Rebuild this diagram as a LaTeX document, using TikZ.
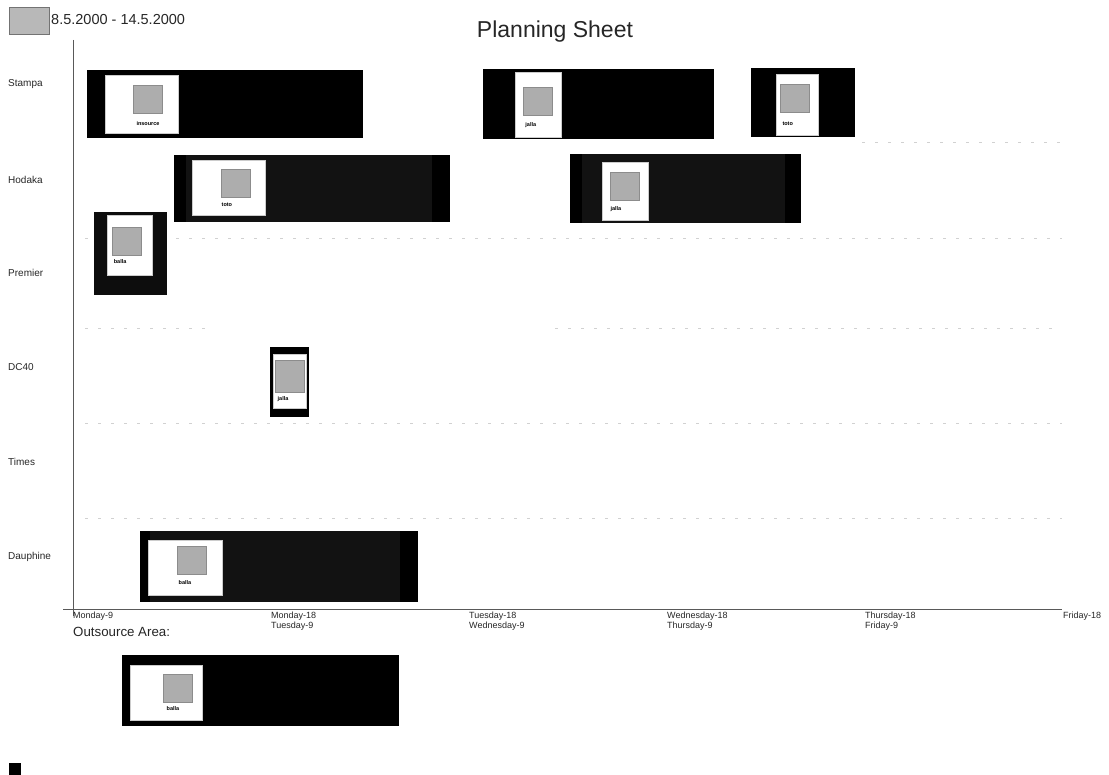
\documentclass[tikz,border=0pt]{standalone}
\usepackage{fontspec}
\setmainfont{Liberation Sans}
\begin{document}
\begin{tikzpicture}[x=1pt,y=-1pt,
  txt/.style={inner sep=0pt,text=black!85},
  rowlab/.style={txt,anchor=west,font=\fontsize{10}{11}\selectfont},
  ticklab/.style={txt,anchor=north west,align=left,font=\fontsize{9}{9.3}\selectfont},
  blockfill/.style={fill=black},
  card/.style={draw=black!20,fill=white,inner sep=0pt,line width=0.4pt},
  sq/.style={draw=black!45,fill=black!32,inner sep=0pt,minimum width=29pt,minimum height=28pt,line width=0.4pt},
  clab/.style={inner sep=0pt,font=\fontsize{5.5}{6}\selectfont\bfseries,text=black},
  grid/.style={draw=black!18,line width=0.8pt,dash pattern=on 3pt off 10pt},
  axis/.style={draw=black!65,line width=0.8pt}
]
\useasboundingbox (0,0) rectangle (1109,775);

% legend and title
\node[draw=black!55,fill=black!28,minimum width=40pt,minimum height=27pt,inner sep=0pt,line width=0.6pt] (legbox) at (29,20.5) {};
\node[txt,anchor=west,font=\fontsize{14.5}{16}\selectfont] (legtxt) at (51,20) {8.5.2000 - 14.5.2000};
\node[txt,font=\fontsize{23}{25}\selectfont] (title) at (555,32) {Planning Sheet};

% faint grid lines
\coordinate (g1a) at (862,142); \coordinate (g1b) at (1062,142);
\coordinate (g2a) at (85,238); \coordinate (g2b) at (1062,238);
\coordinate (g3a) at (85,328); \coordinate (g3b) at (212,328);
\coordinate (g3c) at (555,328); \coordinate (g3d) at (1062,328);
\coordinate (g4a) at (85,423); \coordinate (g4b) at (1062,423);
\coordinate (g5a) at (85,518); \coordinate (g5b) at (1062,518);
\draw[grid] (g1a) -- (g1b);
\draw[grid] (g2a) -- (g2b);
\draw[grid] (g3a) -- (g3b);
\draw[grid] (g3c) -- (g3d);
\draw[grid] (g4a) -- (g4b);
\draw[grid] (g5a) -- (g5b);

% axes
\coordinate (ytop) at (73,40); \coordinate (ybot) at (73,616);
\coordinate (xl) at (63,609); \coordinate (xr) at (1062,609);
\draw[axis] (ytop) -- (ybot);
\draw[axis] (xl) -- (xr);

% row labels
\node[rowlab] (rStampa) at (8,84) {Stampa};
\node[rowlab] (rHodaka) at (8,180) {Hodaka};
\node[rowlab] (rPremier) at (8,273) {Premier};
\node[rowlab] (rDC) at (8,367) {DC40};
\node[rowlab] (rTimes) at (8,462) {Times};
\node[rowlab] (rDauphine) at (8,557) {Dauphine};

% tick labels
\node[ticklab] (t0) at (73,612) {Monday-9};
\node[ticklab] (t1) at (271,612) {Monday-18\\Tuesday-9};
\node[ticklab] (t2) at (469,612) {Tuesday-18\\Wednesday-9};
\node[ticklab] (t3) at (667,612) {Wednesday-18\\Thursday-9};
\node[ticklab] (t4) at (865,612) {Thursday-18\\Friday-9};
\node[ticklab] (t5) at (1063,612) {Friday-18};

\node[txt,anchor=west,font=\fontsize{13.3}{15}\selectfont] (outs) at (73,632) {Outsource Area:};

% blocks
\fill[blockfill] (87,70) rectangle (363,138);
\fill[blockfill] (483,69) rectangle (714,139);
\fill[blockfill] (751,68) rectangle (855,137);
\fill[black!93] (174,155) rectangle (450,222);
\fill[black] (432,155) rectangle (450,222);
\fill[black] (174,155) rectangle (186,222);
\fill[black!93] (570,154) rectangle (801,223);
\fill[black] (785,154) rectangle (801,223);
\fill[black] (570,154) rectangle (582,223);
\fill[black!95] (94,212) rectangle (167,295);
\fill[blockfill] (270,347) rectangle (309,417);
\fill[black!93] (140,531) rectangle (418,602);
\fill[black] (400,531) rectangle (418,602);
\fill[black] (140,531) rectangle (150,602);
\fill[blockfill] (122,655) rectangle (399,726);

% cards
\begin{scope}[shift={(141.5,104)}]
\node[card,minimum width=73pt,minimum height=58pt] (c1) at (0,0) {};
\node[sq] (s1) at (6.5,-4.5) {};
\node[clab] (l1) at (6.5,20) {insource};
\end{scope}
\begin{scope}[shift={(538.5,104.5)},rotate=2]
\node[card,minimum width=46pt,minimum height=65pt] (c2) at (0,0) {};
\node[sq] (s2) at (-1,-3.5) {};
\node[clab,anchor=west] (l2) at (-14,20.5) {jalla};
\end{scope}
\begin{scope}[shift={(797,104.5)},rotate=4]
\node[card,minimum width=42pt,minimum height=61pt] (c3) at (0,0) {};
\node[sq] (s3) at (-1.5,-6) {};
\node[clab,anchor=west] (l3) at (-16,18) {toto};
\end{scope}
\begin{scope}[shift={(228.5,187.5)}]
\node[card,minimum width=73pt,minimum height=55pt] (c4) at (0,0) {};
\node[sq] (s4) at (7,-4.5) {};
\node[clab,anchor=west] (l4) at (-7,17.5) {toto};
\end{scope}
\begin{scope}[shift={(625,191)},rotate=-2]
\node[card,minimum width=46pt,minimum height=58pt] (c5) at (0,0) {};
\node[sq] (s5) at (0,-5) {};
\node[clab,anchor=west] (l5) at (-14,19) {jalla};
\end{scope}
\begin{scope}[shift={(129.5,245)},rotate=-3]
\node[card,minimum width=45pt,minimum height=60pt] (c6) at (0,0) {};
\node[sq] (s6) at (-3,-4) {};
\node[clab,anchor=west] (l6) at (-15,17) {balla};
\end{scope}
\begin{scope}[shift={(289.5,381)}]
\node[card,minimum width=33pt,minimum height=54pt] (c7) at (0,0) {};
\node[sq,minimum height=32pt] (s7) at (0,-5) {};
\node[clab,anchor=west] (l7) at (-12,18) {jalla};
\end{scope}
\begin{scope}[shift={(185,567.5)}]
\node[card,minimum width=74pt,minimum height=55pt] (c8) at (0,0) {};
\node[sq] (s8) at (7,-7) {};
\node[clab] (l8) at (0,15.5) {balla};
\end{scope}
\begin{scope}[shift={(166,692.5)}]
\node[card,minimum width=72pt,minimum height=55pt] (c9) at (0,0) {};
\node[sq] (s9) at (11.5,-4.5) {};
\node[clab] (l9) at (7,16.5) {balla};
\end{scope}

% small square bottom-left
\node[fill=black,minimum width=12pt,minimum height=12pt,inner sep=0pt] (mark) at (15,769) {};
\end{tikzpicture}
\end{document}
